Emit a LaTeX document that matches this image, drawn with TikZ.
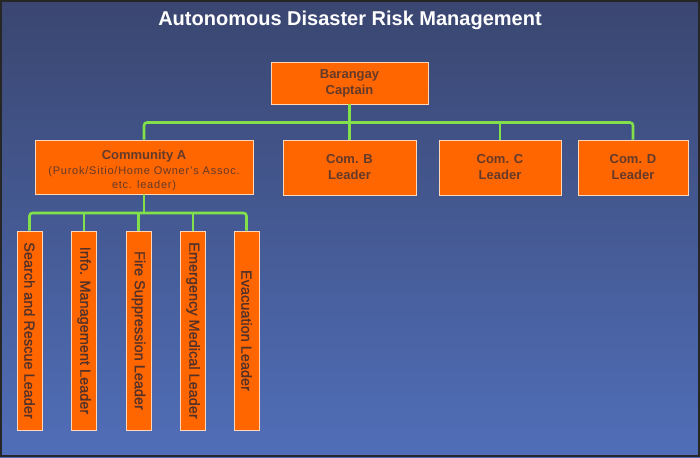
\documentclass[tikz,border=0pt]{standalone}
\usepackage{fontspec}
\setmainfont{Liberation Sans}
\newfontfamily\leaderfont[FakeBold=1.3]{Liberation Sans}
\definecolor{boxfill}{RGB}{255,102,0}
\definecolor{boxline}{RGB}{255,215,185}
\definecolor{boxtext}{RGB}{100,58,42}
\definecolor{leadtext}{RGB}{85,50,40}
\definecolor{conncol}{RGB}{130,225,75}
\definecolor{bgtop}{RGB}{58,70,112}
\definecolor{bgmid}{RGB}{36,70,148}
\definecolor{bgbot}{RGB}{80,110,184}
\begin{document}
\begin{tikzpicture}[x=1pt,y=-1pt,
  box/.style={draw=boxline, line width=0.8pt, fill=boxfill, text=boxtext,
    inner sep=0pt, align=center, font=\bfseries\fontsize{13}{16}\selectfont},
  leader/.style={box, minimum width=25pt, minimum height=199pt, text=leadtext,
    font=\leaderfont\fontsize{14.5}{16}\selectfont},
  conn/.style={draw=conncol, line width=2.6pt, rounded corners=3pt}]
\useasboundingbox (0,0) rectangle (700,457);
\shade[top color=bgtop, middle color=bgmid, bottom color=bgbot] (0,0) rectangle (700,457);
\draw[black!85, line width=2pt] (1,1) rectangle (699,456);
\node[text=white, font=\bfseries\fontsize{20}{24}\selectfont] (title) at (350,20) {Autonomous Disaster Risk Management};
% top level
\node[box, minimum width=157pt, minimum height=42pt] (cap) at (349.5,83) {Barangay\\Captain};
\node[box, minimum width=218pt, minimum height=54pt] (comA) at (144,167)
  {\rule{0pt}{15.5pt}Community A\\[-1pt]{\mdseries\fontsize{11}{14}\selectfont\addfontfeature{LetterSpace=7} (Purok/Sitio/Home Owner's Assoc.}\\[-2pt]{\mdseries\fontsize{11}{14}\selectfont\addfontfeature{LetterSpace=7} etc. leader)}};
\node[box, minimum width=133pt, minimum height=55pt] (comB) at (349.5,167.5) {Com. B\\Leader};
\node[box, minimum width=122pt, minimum height=55pt] (comC) at (500,167.5) {Com. C\\Leader};
\node[box, minimum width=110pt, minimum height=55pt] (comD) at (633,167.5) {Com. D\\Leader};
% leaders
\node[leader] (l1) at (29.5,330.5) {\rotatebox{-90}{Search and Rescue Leader}};
\node[leader] (l2) at (84,330.5) {\rotatebox{-90}{Info. Management Leader}};
\node[leader] (l3) at (138.5,330.5) {\rotatebox{-90}{Fire Suppression Leader}};
\node[leader] (l4) at (193,330.5) {\rotatebox{-90}{Emergency Medical Leader}};
\node[leader] (l5) at (246.5,330.5) {\rotatebox{-90}{Evacuation Leader}};
% connectors
\coordinate (bus1) at (0,122.5);
\coordinate (bus2) at (0,213);
\draw[conn] (cap.south) -- (comB.north);
\draw[conn] (comA.north) -- (comA.north |- bus1) -- (comD.north |- bus1) -- (comD.north);
\draw[conn] (comC.north |- bus1) -- (comC.north);
\draw[conn] (comA.south) -- (comA.south |- bus2);
\draw[conn] (l1.north) -- (l1.north |- bus2) -- (l5.north |- bus2) -- (l5.north);
\draw[conn] (l2.north |- bus2) -- (l2.north);
\draw[conn] (l3.north |- bus2) -- (l3.north);
\draw[conn] (l4.north |- bus2) -- (l4.north);
\end{tikzpicture}
\end{document}
